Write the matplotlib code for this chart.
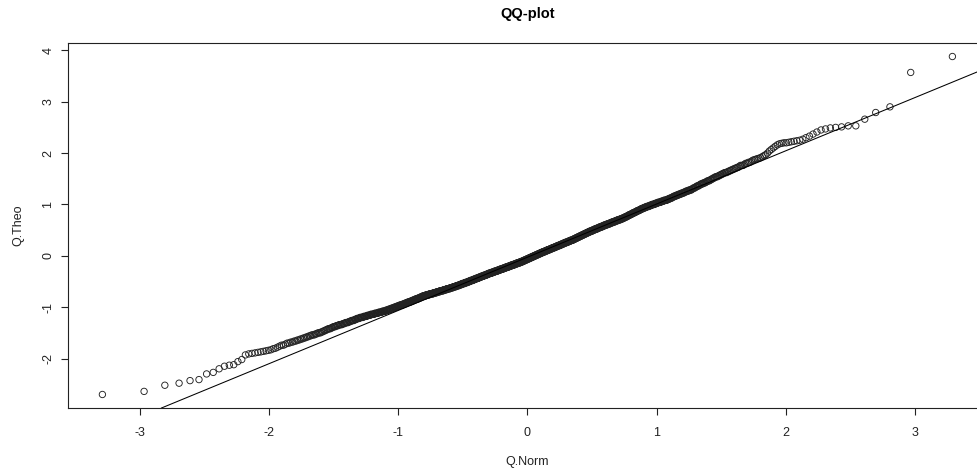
import statistics

import numpy as np
import matplotlib
matplotlib.use("Agg")
import matplotlib.pyplot as plt

# sorted sample (n = 1000)
# lowest 25 points, one by one
LOW_TAIL = [-2.70, -2.64, -2.52, -2.48, -2.43, -2.41, -2.30, -2.27, -2.20, -2.15,
            -2.13, -2.12, -2.06, -2.02, -1.93, -1.91, -1.90, -1.89, -1.88, -1.87,
            -1.86, -1.85, -1.84, -1.83, -1.81]

# dense middle: values rounded to 0.02 with how many points fall on each
MID_VALUES = [
    -1.80, -1.78, -1.76, -1.74, -1.72, -1.70, -1.68, -1.66, -1.64, -1.62,
    -1.60, -1.58, -1.56, -1.54, -1.52, -1.50, -1.48, -1.46, -1.44, -1.42,
    -1.40, -1.38, -1.36, -1.34, -1.32, -1.30, -1.28, -1.26, -1.24, -1.22,
    -1.20, -1.18, -1.16, -1.14, -1.12, -1.10, -1.08, -1.06, -1.04, -1.02,
    -1.00, -0.98, -0.96, -0.94, -0.92, -0.90, -0.88, -0.86, -0.84, -0.82,
    -0.80, -0.78, -0.76, -0.74, -0.72, -0.70, -0.68, -0.66, -0.64, -0.62,
    -0.60, -0.58, -0.56, -0.54, -0.52, -0.50, -0.48, -0.46, -0.44, -0.42,
    -0.40, -0.38, -0.36, -0.34, -0.32, -0.30, -0.28, -0.26, -0.24, -0.22,
    -0.20, -0.18, -0.16, -0.14, -0.12, -0.10, -0.08, -0.06, -0.04, -0.02,
    0.00, 0.02, 0.04, 0.06, 0.08, 0.10, 0.12, 0.14, 0.16, 0.18,
    0.20, 0.22, 0.24, 0.26, 0.28, 0.30, 0.32, 0.34, 0.36, 0.38,
    0.40, 0.42, 0.44, 0.46, 0.48, 0.50, 0.52, 0.54, 0.56, 0.58,
    0.60, 0.62, 0.64, 0.66, 0.68, 0.70, 0.72, 0.74, 0.76, 0.78,
    0.80, 0.82, 0.84, 0.86, 0.88, 0.90, 0.92, 0.94, 0.96, 0.98,
    1.00, 1.02, 1.04, 1.06, 1.08, 1.10, 1.12, 1.14, 1.16, 1.18,
    1.20, 1.22, 1.24, 1.26, 1.28, 1.30, 1.32, 1.34, 1.36, 1.38,
    1.40, 1.42, 1.44, 1.46, 1.48, 1.50, 1.52, 1.54, 1.56, 1.58,
    1.60, 1.62, 1.64, 1.66, 1.68, 1.70, 1.72, 1.74, 1.76, 1.78,
    1.80, 1.82, 1.84,
]
MID_COUNTS = [
    1, 1, 1, 2, 1, 2, 2, 2, 2, 2,
    2, 2, 2, 3, 2, 3, 2, 2, 2, 3,
    2, 3, 3, 4, 3, 4, 3, 4, 3, 4,
    5, 5, 5, 6, 6, 6, 6, 5, 5, 5,
    5, 5, 6, 5, 5, 6, 5, 5, 6, 5,
    5, 7, 8, 9, 8, 8, 9, 8, 9, 8,
    8, 8, 7, 8, 8, 7, 8, 7, 8, 7,
    8, 8, 7, 9, 8, 9, 8, 9, 8, 9,
    8, 9, 8, 9, 8, 7, 7, 7, 7, 7,
    7, 7, 7, 7, 8, 7, 8, 7, 8, 7,
    8, 7, 7, 8, 7, 8, 6, 6, 6, 6,
    6, 6, 6, 6, 7, 6, 7, 6, 7, 6,
    7, 7, 6, 7, 6, 7, 6, 5, 5, 4,
    5, 4, 5, 4, 5, 4, 5, 5, 6, 5,
    6, 5, 6, 5, 6, 4, 4, 3, 4, 4,
    4, 4, 3, 4, 4, 2, 3, 2, 3, 2,
    3, 3, 2, 3, 2, 2, 2, 3, 2, 2,
    2, 3, 2, 2, 2, 2, 2, 1, 3, 1,
    2, 2, 1,
]

# highest 41 points, one by one
HIGH_TAIL = [1.86, 1.87, 1.88, 1.89, 1.90, 1.91, 1.93, 1.95, 1.97, 2.00,
             2.04, 2.07, 2.10, 2.13, 2.16, 2.18, 2.19, 2.20, 2.20, 2.21,
             2.22, 2.23, 2.24, 2.25, 2.27, 2.30, 2.33, 2.37, 2.41, 2.45,
             2.47, 2.49, 2.50, 2.51, 2.53, 2.53, 2.66, 2.79, 2.90, 3.57,
             3.88]

# reference line drawn over the points
LINE_INTERCEPT = -0.028
LINE_SLOPE = 1.036

TITLE = "QQ-plot"
X_LABEL = "Q.Norm"
Y_LABEL = "Q.Theo"
X_TICKS = [-3, -2, -1, 0, 1, 2, 3]
Y_TICKS = [-2, -1, 0, 1, 2, 3, 4]

if len(MID_VALUES) != len(MID_COUNTS):
    raise ValueError("MID_VALUES and MID_COUNTS differ in length")

sample = np.sort(np.concatenate([LOW_TAIL, np.repeat(MID_VALUES, MID_COUNTS), HIGH_TAIL]))
n = len(sample)
nd = statistics.NormalDist()
q_norm = np.array([nd.inv_cdf((i + 0.5) / n) for i in range(n)])

plt.rcParams["font.family"] = ["Liberation Sans", "DejaVu Sans"]
plt.rcParams["axes.unicode_minus"] = False

fig = plt.figure(figsize=(9.78, 4.74), dpi=100)
ax = fig.add_axes([68.4 / 978, 66 / 474, 918 / 978, 365 / 474])

ax.scatter(q_norm, sample, s=21, facecolors="none", edgecolors="#222222", linewidths=0.65, zorder=2)
ax.axline((0, LINE_INTERCEPT), slope=LINE_SLOPE, color="black", linewidth=0.75, zorder=3)

# R style 4% padding around the data
xr = q_norm.max() - q_norm.min()
yr = sample.max() - sample.min()
ax.set_xlim(q_norm.min() - 0.04 * xr, q_norm.max() + 0.04 * xr)
ax.set_ylim(sample.min() - 0.04 * yr, sample.max() + 0.04 * yr)

ax.set_xticks(X_TICKS)
ax.set_yticks(Y_TICKS)
ax.set_xticklabels([str(t) for t in X_TICKS])
ax.set_yticklabels([str(t) for t in Y_TICKS])
ax.tick_params(direction="out", length=5, width=0.8, labelsize=9, colors="#222222")
ax.tick_params(axis="x", pad=9)
ax.tick_params(axis="y", pad=5, labelrotation=90)
for lab in ax.get_yticklabels():
    lab.set_va("center")

for spine in ax.spines.values():
    spine.set_linewidth(0.8)
    spine.set_color("#222222")

ax.set_title(TITLE, fontsize=10.5, fontweight="bold", pad=18)
ax.set_xlabel(X_LABEL, fontsize=9, va="center", color="#222222")
ax.set_ylabel(Y_LABEL, fontsize=9, va="center", color="#222222")
ax.xaxis.set_label_coords(0.5, -0.148)
ax.yaxis.set_label_coords(-0.0549, 0.5)

fig.savefig("out.png", dpi=100)
plt.close(fig)
